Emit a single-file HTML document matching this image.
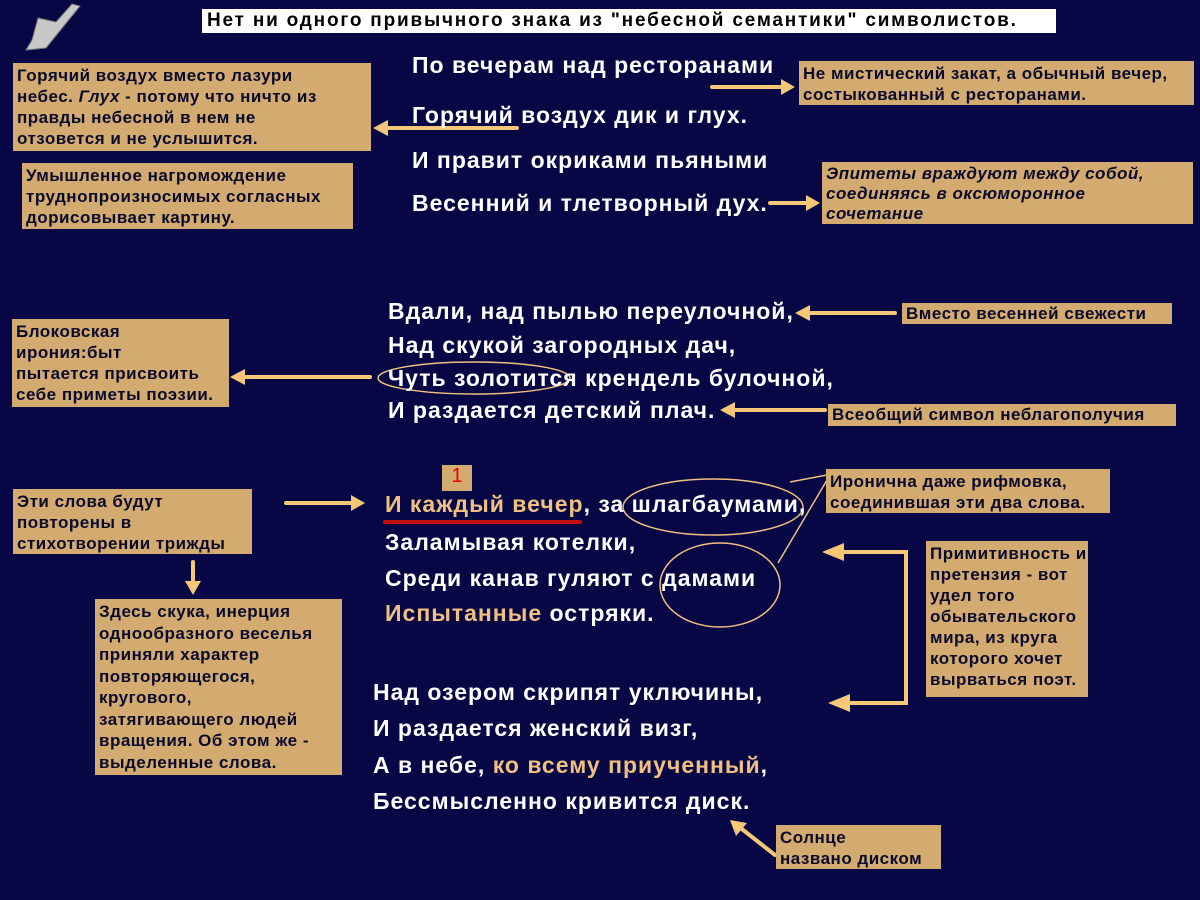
<!DOCTYPE html>
<html><head><meta charset="utf-8"><style>
body{margin:0;width:1200px;height:900px;background:#070745;overflow:hidden;position:relative;font-family:"Liberation Sans","Noto Sans CJK SC",sans-serif;font-weight:bold}
.b{position:absolute;background:#d3ab70;color:#0a0a2a;font-size:17px;letter-spacing:0.5px;line-height:21px;padding:2px 4px 0;box-sizing:border-box;white-space:nowrap}
.p{position:absolute;color:#fff;font-size:23px;letter-spacing:1px;white-space:nowrap}
.y{color:#f0c080}
svg{position:absolute;left:0;top:0}
</style></head><body>
<svg width="1200" height="900">
<g fill="none" stroke="#f5c878" stroke-width="4" stroke-linecap="round">
<line x1="712" y1="87" x2="785" y2="87"/><line x1="517" y1="128" x2="385" y2="128"/>
<line x1="770" y1="203" x2="810" y2="203"/><line x1="895" y1="313" x2="805" y2="313"/>
<line x1="370" y1="377" x2="240" y2="377"/><line x1="825" y1="410" x2="730" y2="410"/>
<line x1="286" y1="503" x2="355" y2="503"/><line x1="193" y1="562" x2="193" y2="585"/>
<polyline points="838,552 906,552 906,703 850,703"/><line x1="775" y1="855" x2="738" y2="826"/>
</g>
<g fill="#f5c878">
<polygon points="795,87 781,79 781,95"/><polygon points="373,128 388,120 388,136"/>
<polygon points="820,203 806,195 806,211"/><polygon points="795,313 810,305 810,321"/>
<polygon points="230,377 245,369 245,385"/><polygon points="720,410 735,402 735,418"/>
<polygon points="365,503 351,495 351,511"/><polygon points="193,595 185,581 201,581"/>
<polygon points="822,552 844,543 844,561"/><polygon points="828,703 850,694 850,712"/>
<polygon points="730,820 747,823 736,836"/>
</g>
<g fill="none" stroke="#f0c080" stroke-width="1.5">
<ellipse cx="474" cy="378" rx="96" ry="16"/>
<ellipse cx="713" cy="507" rx="90" ry="28"/><ellipse cx="720" cy="585" rx="60" ry="42"/>
<line x1="827" y1="475" x2="790" y2="482"/><line x1="827" y1="480" x2="778" y2="563"/>
</g>
<line x1="385" y1="522" x2="580" y2="522" stroke="#c01010" stroke-width="4" stroke-linecap="round"/>
<path d="M72 4 L80 6 L46 48 L26 50 L32 40 L38 18 L56 22 Z" fill="#c8c8c8" stroke="#777"/>
</svg>
<div style="position:absolute;left:202px;top:9px;width:854px;height:24px;background:#fff;color:#000;font-size:19px;letter-spacing:1.8px;line-height:24px;padding-left:5px;box-sizing:border-box;white-space:nowrap">Нет ни одного привычного знака из "небесной семантики" символистов.</div>
<div class="p" style="left:412px;top:52px">По вечерам над ресторанами</div>
<div class="p" style="left:412px;top:102px">Горячий воздух дик и глух.</div>
<div class="p" style="left:412px;top:147px">И правит окриками пьяными</div>
<div class="p" style="left:412px;top:190px">Весенний и тлетворный дух.</div>
<div class="b" style="left:13px;top:63px;width:358px;height:88px">Горячий воздух вместо лазури<br>небес. <i>Глух</i> - потому что ничто из<br>правды небесной в нем не<br>отзовется и не услышится.</div>
<div class="b" style="left:22px;top:163px;width:331px;height:66px">Умышленное нагромождение<br>труднопроизносимых согласных<br>дорисовывает картину.</div>
<div class="b" style="left:799px;top:61px;width:395px;height:44px">Не мистический закат, а обычный вечер,<br>состыкованный с ресторанами.</div>
<div class="b" style="left:822px;top:162px;width:371px;height:62px;font-style:italic;line-height:20px">Эпитеты враждуют между собой,<br>соединяясь в оксюморонное<br>сочетание</div>
<div class="p" style="left:388px;top:298px">Вдали, над пылью переулочной,</div>
<div class="p" style="left:388px;top:332px">Над скукой загородных дач,</div>
<div class="p" style="left:388px;top:365px">Чуть золотится крендель булочной,</div>
<div class="p" style="left:388px;top:397px">И раздается детский плач.</div>
<div class="b" style="left:12px;top:319px;width:217px;height:88px">Блоковская<br>ирония:быт<br>пытается присвоить<br>себе приметы поэзии.</div>
<div class="b" style="left:902px;top:303px;width:270px;height:21px;padding-top:0">Вместо весенней свежести</div>
<div class="b" style="left:828px;top:404px;width:348px;height:22px;padding-top:0">Всеобщий символ неблагополучия</div>
<div style="position:absolute;left:442px;top:465px;width:30px;height:26px;background:#d3ab70;color:#e00;font-size:20px;text-align:center;font-weight:normal">1</div>
<div class="p" style="left:385px;top:491px"><span class="y">И каждый вечер</span>, за шлагбаумами,</div>
<div class="p" style="left:385px;top:529px">Заламывая котелки,</div>
<div class="p" style="left:385px;top:565px">Среди канав гуляют с дамами</div>
<div class="p" style="left:385px;top:600px"><span class="y">Испытанные</span> остряки.</div>
<div class="b" style="left:13px;top:489px;width:239px;height:65px">Эти слова будут<br>повторены в<br>стихотворении трижды</div>
<div class="b" style="left:826px;top:469px;width:284px;height:44px">Иронична даже рифмовка,<br>соединившая эти два слова.</div>
<div class="b" style="left:95px;top:599px;width:247px;height:176px;line-height:21.5px">Здесь скука, инерция<br>однообразного веселья<br>приняли характер<br>повторяющегося,<br>кругового,<br>затягивающего людей<br>вращения. Об этом же -<br>выделенные слова.</div>
<div class="b" style="left:926px;top:541px;width:162px;height:156px">Примитивность и<br>претензия - вот<br>удел того<br>обывательского<br>мира, из круга<br>которого хочет<br>вырваться поэт.</div>
<div class="p" style="left:373px;top:679px">Над озером скрипят уключины,</div>
<div class="p" style="left:373px;top:715px">И раздается женский визг,</div>
<div class="p" style="left:373px;top:752px">А в небе, <span class="y">ко всему приученный</span>,</div>
<div class="p" style="left:373px;top:788px">Бессмысленно кривится диск.</div>
<div class="b" style="left:776px;top:825px;width:165px;height:44px">Солнце<br>названо диском</div>
</body></html>
